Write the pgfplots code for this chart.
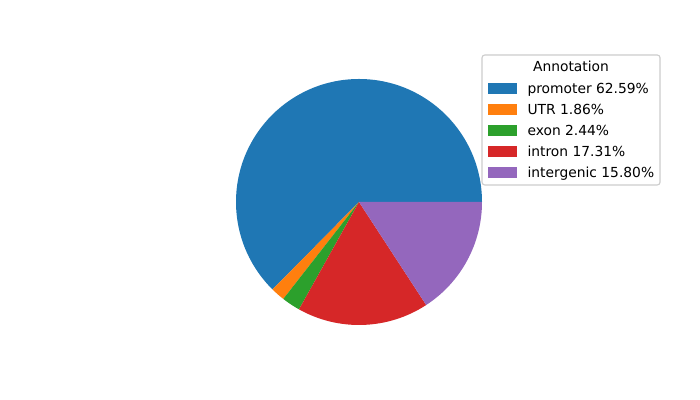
\documentclass[border=0pt]{standalone}
\usepackage{fontspec}
\setmainfont{DejaVu Sans}
\usepackage{pgfplots}
\usepackage{pgfplotstable}
\pgfplotsset{compat=1.18}
\definecolor{c0}{HTML}{1F77B4}
\definecolor{c1}{HTML}{FF7F0E}
\definecolor{c2}{HTML}{2CA02C}
\definecolor{c3}{HTML}{D62728}
\definecolor{c4}{HTML}{9467BD}
\pgfplotstableread{
label value
promoter 62.59
UTR 1.86
exon 2.44
intron 17.31
intergenic 15.80
}\piedata
\begin{document}
\begin{tikzpicture}
\begin{axis}[
  x=1.23in, y=1.23in,
  xmin=-2.9187, xmax=2.7724, ymin=-1.6098, ymax=1.6423,
  hide axis, clip=false,
  legend style={at={(rel axis cs:0.6971,0.8010)}, anchor=north west,
    draw=none, fill=none, inner sep=0pt, outer sep=0pt,
    row sep=0.038in, column sep=0.11in,
    font=\fontsize{10}{12}\selectfont,
    nodes={inner sep=0pt, text height=10pt, text depth=2.5pt}},
  legend cell align=left,
]
\path (rel axis cs:0,0) rectangle (rel axis cs:1,1);
\def\cum{0}
\pgfplotsforeachungrouped \i in {0,...,4} {
  \pgfplotstablegetelem{\i}{value}\of\piedata
  \let\val\pgfplotsretval
  \pgfmathsetmacro\a{\cum*3.6}
  \pgfmathsetmacro\b{(\cum+\val)*3.6}
  \edef\temp{\noexpand\fill[c\i] (axis cs:0,0) -- ++(\a:1.23in) arc[start angle=\a, end angle=\b, radius=1.23in] -- cycle;}
  \temp
  \pgfmathsetmacro\cum{\cum+\val}
}
\draw[draw={rgb,255:red,204;green,204;blue,204}, line width=0.8pt, fill=white, fill opacity=0.8, rounded corners=2pt]
  (rel axis cs:0.6886,0.5375) rectangle (rel axis cs:0.9429,0.8625);
\node[anchor=base, inner sep=0pt, font=\fontsize{10}{12}\selectfont] at (rel axis cs:0.8157,0.8205) {Annotation};
\addlegendimage{legend image code/.code={\fill[c0] (0in,-0.05in) rectangle (0.28in,0.05in);}}
\addlegendentry{promoter 62.59\%}
\addlegendimage{legend image code/.code={\fill[c1] (0in,-0.05in) rectangle (0.28in,0.05in);}}
\addlegendentry{UTR 1.86\%}
\addlegendimage{legend image code/.code={\fill[c2] (0in,-0.05in) rectangle (0.28in,0.05in);}}
\addlegendentry{exon 2.44\%}
\addlegendimage{legend image code/.code={\fill[c3] (0in,-0.05in) rectangle (0.28in,0.05in);}}
\addlegendentry{intron 17.31\%}
\addlegendimage{legend image code/.code={\fill[c4] (0in,-0.05in) rectangle (0.28in,0.05in);}}
\addlegendentry{intergenic 15.80\%}
\end{axis}
\end{tikzpicture}
\end{document}
